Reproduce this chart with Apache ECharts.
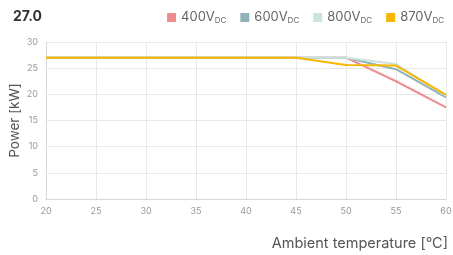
<!DOCTYPE html>
<html>
<head>
<meta charset="utf-8">
<script src="https://cdn.jsdelivr.net/npm/echarts@6/dist/echarts.min.js"></script>
<style>
  html, body { margin: 0; padding: 0; background: #fff; }
  #chart { width: 453px; height: 255px; }
</style>
</head>
<body>
<div id="chart"></div>
<script>
const temps = [20, 25, 30, 35, 40, 45, 50, 55, 60];
const v400 = [27, 27, 27, 27, 27, 27, 27, 22.5, 17.5];
const v600 = [27, 27, 27, 27, 27, 27, 27, 24.8, 19.4];
const v800 = [27, 27, 27, 27, 27, 27, 27, 25.8, 19.7];
const v870 = [27, 27, 27, 27, 27, 27, 25.6, 25.5, 19.9];
const seriesNames = ['400', '600', '800', '870'];
const seriesValues = [v400, v600, v800, v870];
const colors = ['#f08c90', '#8fb2ba', '#cde3db', '#f7b700'];

const font = 'Inter, "Noto Sans", sans-serif';

const series = seriesNames.map((n, i) => ({
  name: n,
  type: 'line',
  data: temps.map((t, k) => [t, seriesValues[i][k]]),
  symbol: 'none',
  lineStyle: { width: 2, color: colors[i] },
  itemStyle: { color: colors[i] },
  z: 2 + i
}));

const chart = echarts.init(document.getElementById('chart'));
chart.setOption({
  animation: false,
  textStyle: { fontFamily: font },
  title: {
    text: '27.0',
    left: 8, top: 5,
    textStyle: { fontSize: 14, fontWeight: 'bold', color: '#333', fontFamily: font }
  },
  legend: {
    right: 4, top: 6,
    itemWidth: 9, itemHeight: 9,
    itemGap: 14,
    icon: 'rect',
    data: seriesNames,
    formatter: n => '{a|' + n + 'V}{b|DC}',
    textStyle: {
      color: '#666',
      rich: {
        a: { fontSize: 13, color: '#666', fontFamily: font },
        b: { fontSize: 8, color: '#666', padding: [6, 0, 0, 0], fontFamily: font }
      }
    }
  },
  grid: { left: 46, right: 7, top: 42, bottom: 56, outerBoundsMode: 'none', containLabel: false },
  xAxis: {
    type: 'value',
    min: 20, max: 60, interval: 5,
    name: 'Ambient temperature [°C]',
    nameLocation: 'end',
    nameGap: 0,
    nameMoveOverlap: false,
    nameTextStyle: { fontSize: 14.5, color: '#555', align: 'right', verticalAlign: 'top', padding: [37, -2, 0, 0] },
    axisLine: { lineStyle: { color: '#d8d8d8' } },
    axisTick: { show: false },
    axisLabel: { fontSize: 9, color: '#999', margin: 8 },
    splitLine: { lineStyle: { color: '#e8e8e8' } }
  },
  yAxis: {
    type: 'value',
    min: 0, max: 30, interval: 5,
    name: 'Power [kW]',
    nameLocation: 'middle',
    nameGap: 24,
    nameMoveOverlap: false,
    nameTextStyle: { fontSize: 13.5, color: '#555' },
    axisLine: { show: true, lineStyle: { color: '#d8d8d8' } },
    axisTick: { show: false },
    axisLabel: { fontSize: 9, color: '#999', margin: 8 },
    splitLine: { lineStyle: { color: '#e8e8e8' } }
  },
  series: series
});
</script>
</body>
</html>
